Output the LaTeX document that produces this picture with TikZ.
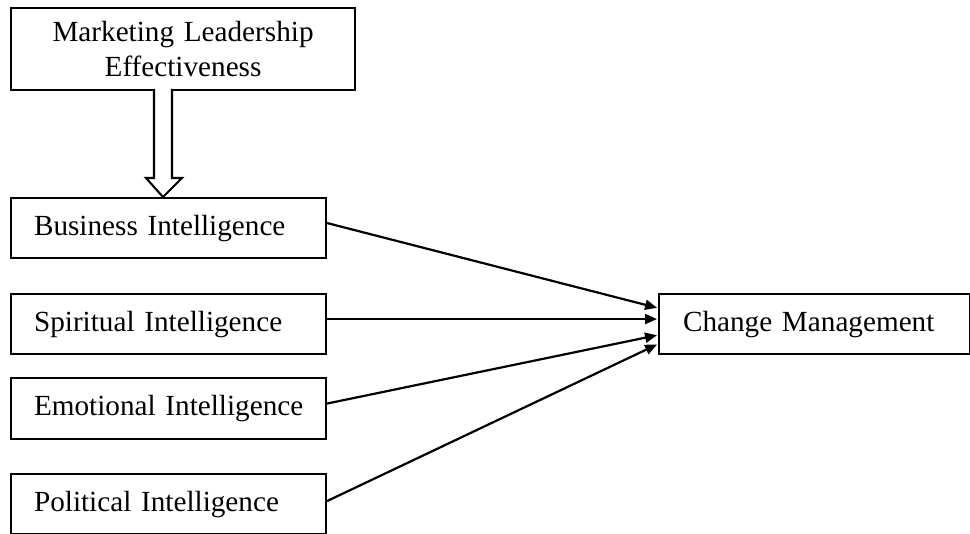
\documentclass[tikz,border=0pt]{standalone}
\usepackage{fontspec}
\setmainfont{Liberation Serif}
\usetikzlibrary{arrows.meta}
\begin{document}
\begin{tikzpicture}[x=1pt,y=-1pt,
  box/.style={draw, line width=2.1pt, rectangle, anchor=north west, inner xsep=23pt, inner ysep=0pt, align=left,
    font=\fontsize{29.2pt}{35pt}\selectfont},
  conn/.style={line width=2.2pt, -{Triangle[length=12pt,width=10pt]}, shorten >=1pt}
]
\useasboundingbox (0,0) rectangle (970,534);
\node[box, align=center, inner xsep=0pt, text width=344pt, minimum height=82pt] (mle) at (10,7) {Marketing Leadership\\Effectiveness};
\node[box, text width=269pt, minimum height=60pt] (bi) at (10,197) {\mbox{Business Intelligence}};
\node[box, text width=269pt, minimum height=60pt] (si) at (10,293) {\mbox{Spiritual Intelligence}};
\node[box, text width=269pt, minimum height=61pt] (ei) at (10,377) {\mbox{Emotional Intelligence}};
\node[box, text width=269pt, minimum height=60pt] (pi) at (10,473) {\mbox{Political Intelligence}};
\node[box, inner xsep=24pt, text width=263pt, minimum height=60pt] (cm) at (658,293) {\mbox{Change Management}};
% hollow arrow
\draw[line width=2.1pt, fill=white, line join=miter]
  (154,89) -- (154,178) -- (146,178) -- (bi.north -| 163,0) -- (182,178) -- (172,178) -- (172,89);
% connectors
\draw[conn] ([yshift=5pt]bi.east) -- ([yshift=16pt]cm.west);
\draw[conn] ([yshift=5pt]si.east) -- ([yshift=5pt]cm.west);
\draw[conn] ([yshift=5pt]ei.east) -- ([yshift=-11pt]cm.west);
\draw[conn] ([yshift=3pt]pi.east) -- ([yshift=-20pt]cm.west);
\end{tikzpicture}
\end{document}
